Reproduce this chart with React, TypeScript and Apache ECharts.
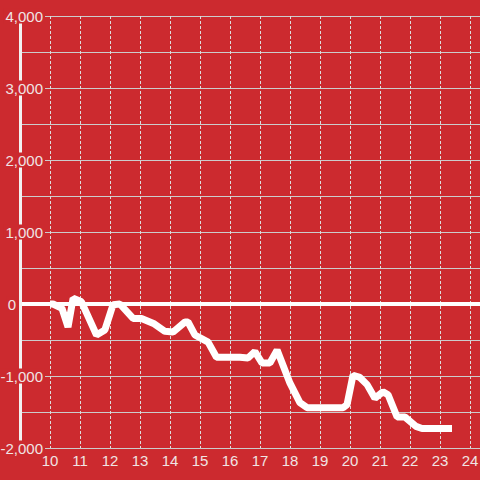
import React, { useEffect, useRef } from "react";
import * as echarts from "echarts";

const xValues = [10, 10.1, 10.4, 10.6, 10.77, 11.05, 11.55, 11.83, 12.1, 12.33, 12.77, 13.05, 13.45, 13.83, 14.1, 14.5, 14.6, 14.83, 15.27, 15.55, 16.33, 16.6, 16.83, 17.07, 17.33, 17.57, 18.0, 18.33, 18.57, 19.77, 19.9, 20.1, 20.33, 20.57, 20.83, 21.1, 21.27, 21.57, 21.83, 22.2, 22.4, 23.4];
const yValues = [0, 0, -60, -320, 80, 30, -430, -360, -10, 0, -200, -200, -270, -380, -390, -250, -250, -430, -530, -740, -740, -750, -660, -820, -820, -640, -1100, -1370, -1440, -1440, -1400, -990, -1020, -1120, -1310, -1220, -1260, -1570, -1570, -1700, -1730, -1730];
const xTickLabels = ["10", "11", "12", "13", "14", "15", "16", "17", "18", "19", "20", "21", "22", "23", "24"];

const RED = "#cc2a2f";
const TEXT = "#f0e4e4";

export default function App() {
  const ref = useRef<HTMLDivElement>(null);
  useEffect(() => {
    if (!ref.current) return;
    const chart = echarts.init(ref.current, undefined, { renderer: "svg" });
    const data = xValues.map((x, i) => [x, yValues[i]]);
    const fmt = (v: number) => {
      const s = Math.abs(v).toString().replace(/\B(?=(\d{3})+(?!\d))/g, ",");
      return (v < 0 ? "-" : "") + s;
    };
    chart.setOption({
      animation: false,
      backgroundColor: RED,
      textStyle: { fontFamily: "Liberation Sans, Arial, sans-serif" },
      grid: { left: 20, right: 0, top: 16, bottom: 32, containLabel: false, outerBoundsMode: "none" },
      xAxis: {
        type: "value",
        min: 9,
        max: 24 + 1 / 3,
        interval: 1,
        axisLine: { show: false },
        axisTick: { show: false },
        axisLabel: {
          color: TEXT,
          fontSize: 15,
          margin: 5,
          formatter: (v: number) => {
            const idx = Math.round(v) - 10;
            return Number.isInteger(v) && idx >= 0 && idx < xTickLabels.length ? xTickLabels[idx] : "";
          },
        },
        splitLine: { show: true, lineStyle: { color: "#dddddd", width: 1, type: [3, 2] } },
      },
      yAxis: [
        {
          type: "value",
          position: "left",
          min: -2000,
          max: 4000,
          interval: 500,
          z: 0,
          axisLine: { show: false },
          axisTick: { show: false },
          axisLabel: { show: false },
          splitLine: { show: true, lineStyle: { color: "#cccccc", width: 1 } },
        },
        {
          type: "value",
          position: "left",
          min: -2000,
          max: 4000,
          interval: 1000,
          z: 5,
          axisLine: { show: true, onZero: false, lineStyle: { color: "#f2f2f2", width: 3 } },
          axisTick: { show: false },
          splitLine: { show: false },
          axisLabel: {
            margin: -25,
            formatter: (v: number) => (v === 0 ? "{z|0}{s| }" : "{a|" + fmt(v) + "}"),
            rich: {
              a: { color: TEXT, fontSize: 15, backgroundColor: RED, padding: [0, 2, 0, 2] },
              z: { color: TEXT, fontSize: 15, backgroundColor: RED, padding: [0, 1, 0, 1] },
              s: { fontSize: 15, width: 28 },
            },
          },
        },
      ],
      series: [
        {
          type: "line",
          data,
          yAxisIndex: 0,
          symbol: "none",
          lineStyle: { color: "#ffffff", width: 7 },
          z: 3,
          markLine: {
            silent: true,
            symbol: "none",
            label: { show: false },
            lineStyle: { color: "#ffffff", width: 4, type: "solid" },
            data: [{ yAxis: 0 }],
          },
        },
      ],
    });
    return () => chart.dispose();
  }, []);
  return <div ref={ref} style={{ position: "fixed", left: 0, top: 0, width: 480, height: 480 }} />;
}
